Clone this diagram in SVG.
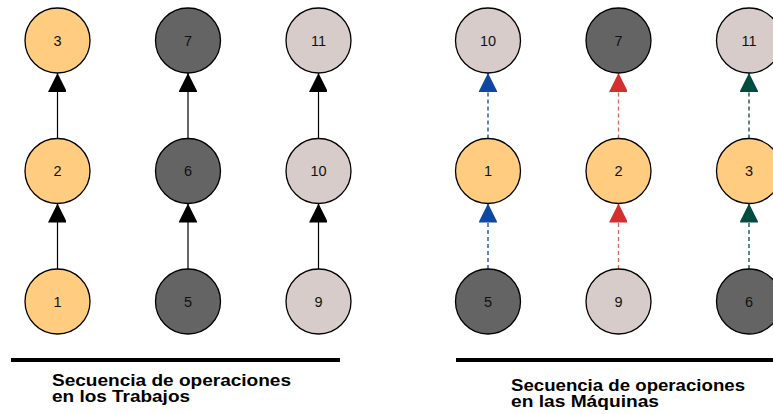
<svg xmlns="http://www.w3.org/2000/svg" width="773" height="414" viewBox="0 0 773 414">
  <style>
    .node circle { stroke: #000; stroke-width: 1.3; }
    .node text { font-family: "Liberation Sans", Arial, sans-serif; font-size: 14.5px; fill: #111; text-anchor: middle; dominant-baseline: central; }
    .or { fill: #FFCC80; }
    .dk { fill: #646464; }
    .lt { fill: #D7CCCA; }
    .solid { stroke: #000; stroke-width: 1.2; fill: none; }
    .dash { stroke-width: 1.3; fill: none; stroke-dasharray: 4 3; }
    .title { font-family: "Liberation Sans", Arial, sans-serif; font-size: 16px; font-weight: bold; fill: #000; }
  </style>
  <defs>
    <marker id="ah-black" viewBox="0 0 19 18" refX="19" refY="9.5" markerWidth="19" markerHeight="18" markerUnits="userSpaceOnUse" orient="auto">
      <path d="M0,0 L19,9.5 L0,19 Z" fill="#000"/>
    </marker>
    <marker id="ah-blue" viewBox="0 0 19 18" refX="19" refY="9.5" markerWidth="19" markerHeight="18" markerUnits="userSpaceOnUse" orient="auto">
      <path d="M0,0 L19,9.5 L0,19 Z" fill="#0D47A1"/>
    </marker>
    <marker id="ah-red" viewBox="0 0 19 18" refX="19" refY="9.5" markerWidth="19" markerHeight="18" markerUnits="userSpaceOnUse" orient="auto">
      <path d="M0,0 L19,9.5 L0,19 Z" fill="#D32F2F"/>
    </marker>
    <marker id="ah-green" viewBox="0 0 19 18" refX="19" refY="9.5" markerWidth="19" markerHeight="18" markerUnits="userSpaceOnUse" orient="auto">
      <path d="M0,0 L19,9.5 L0,19 Z" fill="#004D40"/>
    </marker>
  </defs>

  <!-- connectors -->
  <g id="connectors">
    <!-- job sequences -->
    <path class="solid" d="M57.5,138.5 V73" marker-end="url(#ah-black)"/>
    <path class="solid" d="M57.5,269 V203.5" marker-end="url(#ah-black)"/>
    <path class="solid" d="M188,138.5 V73" marker-end="url(#ah-black)"/>
    <path class="solid" d="M188,269 V203.5" marker-end="url(#ah-black)"/>
    <path class="solid" d="M318.5,138.5 V73" marker-end="url(#ah-black)"/>
    <path class="solid" d="M318.5,269 V203.5" marker-end="url(#ah-black)"/>
    <!-- machine sequences -->
    <path class="dash" stroke="#0D47A1" d="M488,138.5 V73" marker-end="url(#ah-blue)"/>
    <path class="dash" stroke="#0D47A1" d="M488,269 V203.5" marker-end="url(#ah-blue)"/>
    <path class="dash" stroke="#E06666" d="M618.5,138.5 V73" marker-end="url(#ah-red)"/>
    <path class="dash" stroke="#E06666" d="M618.5,269 V203.5" marker-end="url(#ah-red)"/>
    <path class="dash" stroke="#004D40" d="M749,138.5 V73" marker-end="url(#ah-green)"/>
    <path class="dash" stroke="#004D40" d="M749,269 V203.5" marker-end="url(#ah-green)"/>
  </g>

  <!-- job graph -->
  <g id="n3" class="node"><circle class="or" cx="57.5" cy="40.5" r="32.5"/><text x="57.5" y="40.5">3</text></g>
  <g id="n2" class="node"><circle class="or" cx="57.5" cy="171" r="32.5"/><text x="57.5" y="171">2</text></g>
  <g id="n1" class="node"><circle class="or" cx="57.5" cy="301.5" r="32.5"/><text x="57.5" y="301.5">1</text></g>
  <g id="n7" class="node"><circle class="dk" cx="188" cy="40.5" r="32.5"/><text x="188" y="40.5">7</text></g>
  <g id="n6" class="node"><circle class="dk" cx="188" cy="171" r="32.5"/><text x="188" y="171">6</text></g>
  <g id="n5" class="node"><circle class="dk" cx="188" cy="301.5" r="32.5"/><text x="188" y="301.5">5</text></g>
  <g id="n11" class="node"><circle class="lt" cx="318.5" cy="40.5" r="32.5"/><text x="318.5" y="40.5">11</text></g>
  <g id="n10" class="node"><circle class="lt" cx="318.5" cy="171" r="32.5"/><text x="318.5" y="171">10</text></g>
  <g id="n9" class="node"><circle class="lt" cx="318.5" cy="301.5" r="32.5"/><text x="318.5" y="301.5">9</text></g>

  <!-- machine graph -->
  <g id="m10" class="node"><circle class="lt" cx="488" cy="40.5" r="32.5"/><text x="488" y="40.5">10</text></g>
  <g id="m1" class="node"><circle class="or" cx="488" cy="171" r="32.5"/><text x="488" y="171">1</text></g>
  <g id="m5" class="node"><circle class="dk" cx="488" cy="301.5" r="32.5"/><text x="488" y="301.5">5</text></g>
  <g id="m7" class="node"><circle class="dk" cx="618.5" cy="40.5" r="32.5"/><text x="618.5" y="40.5">7</text></g>
  <g id="m2" class="node"><circle class="or" cx="618.5" cy="171" r="32.5"/><text x="618.5" y="171">2</text></g>
  <g id="m9" class="node"><circle class="lt" cx="618.5" cy="301.5" r="32.5"/><text x="618.5" y="301.5">9</text></g>
  <g id="m11" class="node"><circle class="lt" cx="749" cy="40.5" r="32.5"/><text x="749" y="40.5">11</text></g>
  <g id="m3" class="node"><circle class="or" cx="749" cy="171" r="32.5"/><text x="749" y="171">3</text></g>
  <g id="m6" class="node"><circle class="dk" cx="749" cy="301.5" r="32.5"/><text x="749" y="301.5">6</text></g>

  <!-- captions -->
  <g id="caption-jobs">
    <rect x="11" y="358" width="329" height="4" fill="#000"/>
    <text class="title" x="52" y="386" textLength="239" lengthAdjust="spacingAndGlyphs">Secuencia de operaciones</text>
    <text class="title" x="52" y="402" textLength="138" lengthAdjust="spacingAndGlyphs">en los Trabajos</text>
  </g>
  <g id="caption-machines">
    <rect x="456" y="358" width="317" height="4" fill="#000"/>
    <text class="title" x="511" y="391" textLength="234" lengthAdjust="spacingAndGlyphs">Secuencia de operaciones</text>
    <text class="title" x="511" y="407" textLength="148" lengthAdjust="spacingAndGlyphs">en las Máquinas</text>
  </g>
</svg>
